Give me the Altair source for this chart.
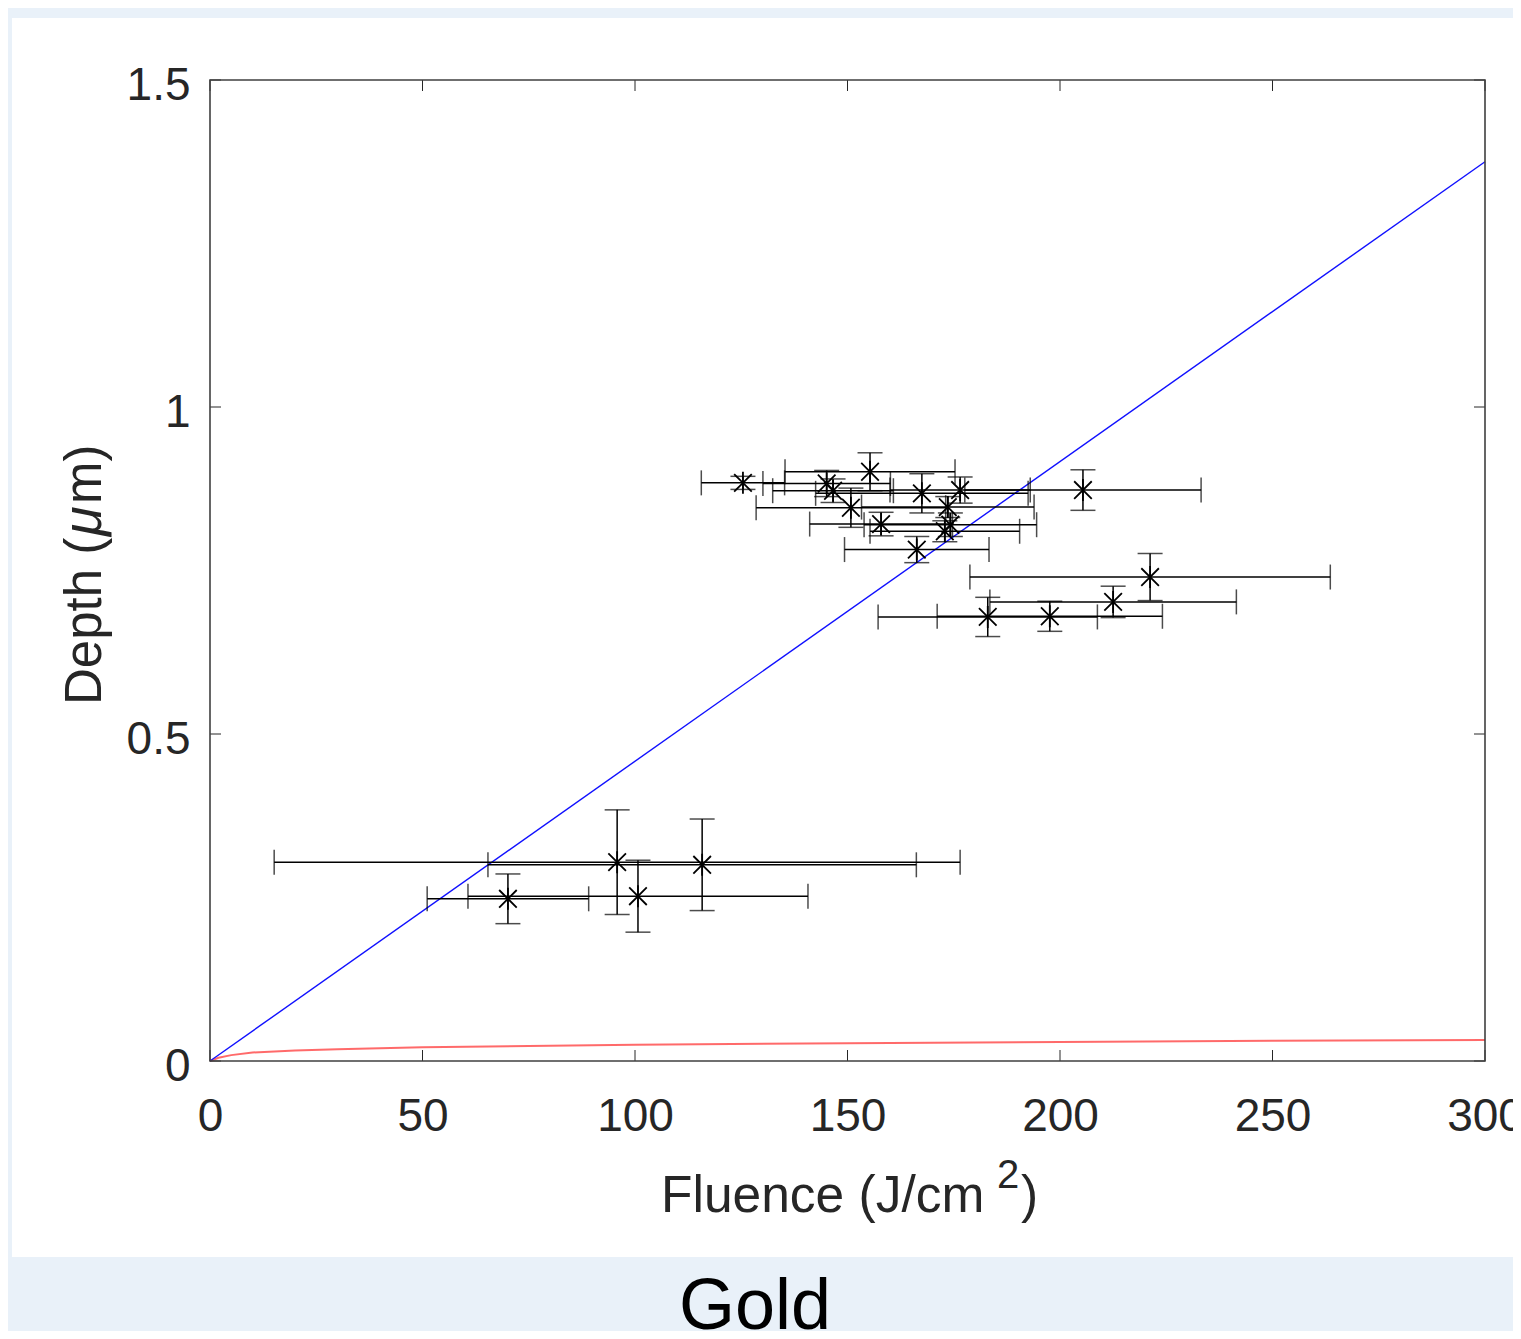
import altair as alt
import pandas as pd

# ---- data ----
fluence = [125.4, 145.1, 146.6, 155.3, 150.8, 157.9, 166.3, 167.5, 176.5, 173.6, 174.2,
           172.9, 205.4, 221.2, 212.5, 183.0, 197.6, 95.8, 115.8, 70.1, 100.7]
depth = [0.884, 0.883, 0.872, 0.901, 0.846, 0.821, 0.782, 0.868, 0.873, 0.847, 0.820,
         0.810, 0.873, 0.740, 0.702, 0.679, 0.680, 0.304, 0.300, 0.248, 0.252]
fluence_err = [9.8, 15.0, 14.2, 20.0, 22.3, 16.8, 17.0, 25.0, 16.5, 20.3, 20.3,
               17.6, 27.8, 42.4, 29.0, 25.8, 26.5, 80.7, 50.4, 19.0, 40.0]
depth_err = [0.010, 0.020, 0.018, 0.029, 0.030, 0.018, 0.020, 0.030, 0.020, 0.016, 0.018,
             0.016, 0.031, 0.036, 0.024, 0.030, 0.023, 0.080, 0.070, 0.038, 0.055]

blue_fluence = [0, 300]
blue_depth = [0, 1.375]

red_fluence = [0, 2, 5, 10, 20, 30, 50, 75, 100, 150, 200, 250, 300]
red_depth = [0, 0.005, 0.009, 0.013, 0.016, 0.018, 0.021, 0.023, 0.025, 0.027, 0.029, 0.031, 0.032]

x_ticks = [0, 50, 100, 150, 200, 250, 300]
y_ticks = [0, 0.5, 1, 1.5]

caption = "Gold"

# ---- layout ----
W, H = 1275, 981
FONT = "Liberation Sans"
TXT = "#262626"

pts = pd.DataFrame({"F": fluence, "D": depth, "xe": fluence_err, "ye": depth_err})
pts["F_lo"] = pts.F - pts.xe
pts["F_hi"] = pts.F + pts.xe
pts["D_lo"] = pts.D - pts.ye
pts["D_hi"] = pts.D + pts.ye

blue = pd.DataFrame({"F": blue_fluence, "D": blue_depth})
red = pd.DataFrame({"F": red_fluence, "D": red_depth})
xt = pd.DataFrame({"v": x_ticks})
yt = pd.DataFrame({"v": y_ticks})
one = pd.DataFrame({"a": [0]})

xs = alt.Scale(domain=[0, 300], nice=False, zero=False)
ys = alt.Scale(domain=[0, 1.5], nice=False, zero=False)

xaxis = alt.Axis(values=x_ticks, format=".2~f", ticks=False, tickSize=0, domain=False, grid=False,
                 labelFont=FONT, labelFontSize=46, labelColor=TXT, labelPadding=33,
                 labelFlush=False, labelOverlap=False, zindex=2)
yaxis = alt.Axis(values=y_ticks, format=".2~f", ticks=False, tickSize=0, domain=False, grid=False,
                 labelFont=FONT, labelFontSize=46, labelColor=TXT, labelPadding=20,
                 labelBaseline="middle", labelOffset=5, labelFlush=False, labelOverlap=False,
                 zindex=2)


def X(f):
    return alt.X(f, type="quantitative", scale=xs, axis=xaxis, title=None)


def Y(f):
    return alt.Y(f, type="quantitative", scale=ys, axis=yaxis, title=None)


panel = alt.Chart(one).mark_rect(color="white").encode(
    x=alt.value(-198), x2=alt.value(1311), y=alt.value(-62), y2=alt.value(1177))

red_line = alt.Chart(red).mark_line(color="#FF5050", strokeWidth=2, opacity=0.85).encode(
    x=X("F"), y=Y("D"))
blue_line = alt.Chart(blue).mark_line(color="#1010FF", strokeWidth=1.4).encode(
    x=X("F"), y=Y("D"))

hbars = alt.Chart(pts).mark_rule(color="black", strokeWidth=1.5).encode(
    x=X("F_lo"), x2="F_hi", y=Y("D"))
vbars = alt.Chart(pts).mark_rule(color="black", strokeWidth=1.5).encode(
    x=X("F"), y=Y("D_lo"), y2="D_hi")
hcap_lo = alt.Chart(pts).mark_tick(color="black", orient="vertical", size=25, thickness=1.5).encode(
    x=X("F_lo"), y=Y("D"))
hcap_hi = alt.Chart(pts).mark_tick(color="black", orient="vertical", size=25, thickness=1.5).encode(
    x=X("F_hi"), y=Y("D"))
vcap_lo = alt.Chart(pts).mark_tick(color="black", orient="horizontal", size=25, thickness=1.5).encode(
    x=X("F"), y=Y("D_lo"))
vcap_hi = alt.Chart(pts).mark_tick(color="black", orient="horizontal", size=25, thickness=1.5).encode(
    x=X("F"), y=Y("D_hi"))
markers = alt.Chart(pts).mark_point(
    shape="M0,-1L0,1M-0.8,-0.8L0.8,0.8M-0.8,0.8L0.8,-0.8",
    filled=False, stroke="black", strokeWidth=1.8, size=484, opacity=1).encode(
    x=X("F"), y=Y("D"))

TL = 11
tick_b = alt.Chart(xt).mark_rule(color=TXT, strokeWidth=1).encode(
    x=X("v"), y=alt.value(H), y2=alt.value(H - TL))
tick_t = alt.Chart(xt).mark_rule(color=TXT, strokeWidth=1).encode(
    x=X("v"), y=alt.value(0), y2=alt.value(TL))
tick_l = alt.Chart(yt).mark_rule(color=TXT, strokeWidth=1).encode(
    y=Y("v"), x=alt.value(0), x2=alt.value(TL))
tick_r = alt.Chart(yt).mark_rule(color=TXT, strokeWidth=1).encode(
    y=Y("v"), x=alt.value(W), x2=alt.value(W - TL))

frame = alt.Chart(one).mark_rect(fillOpacity=0, stroke="#404040", strokeWidth=1.6).encode(
    x=alt.value(0), x2=alt.value(W), y=alt.value(0), y2=alt.value(H))


def label(text, x, y, size=50, angle=0, style="normal", color=TXT, align="left"):
    return alt.Chart(one).mark_text(text=text, font=FONT, fontSize=size, color=color,
                                    align=align, baseline="alphabetic", angle=angle,
                                    fontStyle=style).encode(x=alt.value(x), y=alt.value(y))


xt1 = label("Fluence (J/cm", 451, 1132, size=51.5)
xt2 = label("2", 787, 1108, size=40)
xt3 = label(")", 811, 1132, size=51.5)

yt1 = label("Depth (", -109, 625, angle=270, size=51)
yt2 = label("\u03bc", -109, 456, angle=270, style="italic", size=54)
yt3 = label("m)", -109, 424, angle=270, size=51)

cap = label(caption, 545, 1249, size=72, color="black", align="center")

chart = alt.layer(
    panel, red_line, blue_line, hbars, vbars, hcap_lo, hcap_hi, vcap_lo, vcap_hi, markers,
    tick_b, tick_t, tick_l, tick_r, frame, xt1, xt2, xt3, yt1, yt2, yt3, cap
).properties(
    width=W, height=H,
    padding={"left": 202, "top": 72, "right": 28, "bottom": 270},
    autosize=alt.AutoSizeParams(type="none"),
    background="#E9F1F9",
).configure_view(strokeWidth=0)

chart.save("out.html", embed_options={"renderer": "svg", "actions": False})
